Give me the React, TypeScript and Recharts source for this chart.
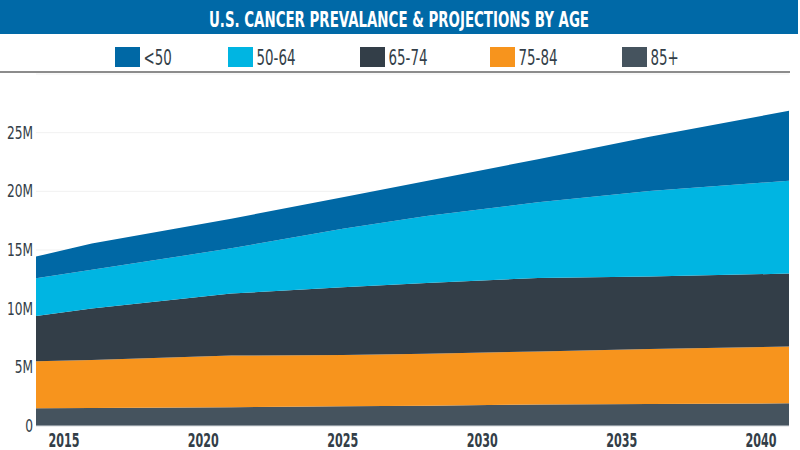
import React from 'react';
import { AreaChart, Area, XAxis, YAxis, CartesianGrid } from 'recharts';

const years = [2014, 2016, 2021, 2025, 2028, 2032, 2036, 2041];
const under50 = [1.85, 2.24, 2.53, 2.69, 2.99, 3.66, 4.62, 5.96];
const age50to64 = [3.22, 3.3, 3.85, 4.99, 5.71, 6.46, 7.29, 7.92];
const age65to74 = [3.85, 4.39, 5.29, 5.77, 6.04, 6.25, 6.18, 6.22];
const age75to84 = [4.0, 4.09, 4.41, 4.36, 4.42, 4.53, 4.69, 4.83];
const age85plus = [1.52, 1.53, 1.59, 1.69, 1.73, 1.83, 1.87, 1.94];

const xTicks = [2015, 2020, 2025, 2030, 2035, 2040];
const yTicks = [0, 5, 10, 15, 20, 25];

const seriesNames = ['<50', '50-64', '65-74', '75-84', '85+'];
const colors: Record<string, string> = {
  '<50': '#0068a5',
  '50-64': '#00b5e2',
  '65-74': '#333e48',
  '75-84': '#f7941d',
  '85+': '#45535e',
};

const data = years.map((y, i) => ({
  year: y,
  '<50': under50[i],
  '50-64': age50to64[i],
  '65-74': age65to74[i],
  '75-84': age75to84[i],
  '85+': age85plus[i],
}));

const FONT = '"DejaVu Sans Condensed", "DejaVu Sans", sans-serif';
const TEXT = '#333e48';

const XTick = (props: any) => {
  const { x, y, payload } = props;
  return (
    <g transform={`translate(${x},${y})`}>
      <text
        transform="scale(0.62,1)"
        textAnchor="middle"
        dy={12.5}
        fill={TEXT}
        fontFamily={FONT}
        fontWeight="bold"
        fontSize={20}
      >
        {payload.value}
      </text>
    </g>
  );
};

const YTick = (props: any) => {
  const { x, y, payload } = props;
  const label = payload.value === 0 ? '0' : `${payload.value}M`;
  return (
    <g transform={`translate(${x},${y})`}>
      <text
        transform="scale(0.8,1)"
        textAnchor="end"
        dy="0.36em"
        fill={TEXT}
        fontFamily={FONT}
        fontSize={17}
      >
        {label}
      </text>
    </g>
  );
};

const legendX = [115, 228, 360, 490, 622];

export default function App() {
  return (
    <div style={{ position: 'absolute', left: 0, top: 0, width: 800, height: 450, background: '#fff', overflow: 'hidden', fontFamily: FONT }}>
      <svg width={800} height={76} style={{ position: 'absolute', left: 0, top: 0 }}>
        <rect x={0} y={0} width={798} height={34} fill="#0069a7" />
        <text
          x={399}
          y={27}
          textAnchor="middle"
          fill="#ffffff"
          fontFamily={FONT}
          fontWeight="bold"
          fontSize={21}
          textLength={380}
          lengthAdjust="spacingAndGlyphs"
        >
          U.S. CANCER PREVALANCE &amp; PROJECTIONS BY AGE
        </text>
        {seriesNames.map((n, i) => (
          <g key={n} transform={`translate(${legendX[i]},47)`}>
            <rect x={0} y={0} width={25} height={20} fill={colors[n]} />
            <g transform="translate(28.5,18) scale(0.71,1)">
              <text x={0} y={0} fill={TEXT} fontFamily={FONT} fontSize={21}>
                {n}
              </text>
            </g>
          </g>
        ))}
        <line x1={0} y1={72} x2={790} y2={72} stroke="#8c8c8c" strokeWidth={2} />
      </svg>
      <div style={{ position: 'absolute', left: 0, top: 0 }}>
        <AreaChart width={800} height={450} data={data} margin={{ top: 74, right: 11, left: 0, bottom: 0 }}>
          <CartesianGrid vertical={false} stroke="#f1f1f1" />
          <XAxis
            dataKey="year"
            type="number"
            domain={[2014, 2041]}
            ticks={xTicks}
            height={24}
            tickLine={false}
            axisLine={{ stroke: '#d9dde0' }}
            tick={<XTick />}
          />
          <YAxis
            type="number"
            domain={[0, 30]}
            ticks={yTicks}
            width={36}
            tickLine={false}
            axisLine={false}
            tickSize={3}
            tickMargin={0}
            tick={<YTick />}
          />
          {['85+', '75-84', '65-74', '50-64', '<50'].map((n) => (
            <Area
              key={n}
              type="linear"
              dataKey={n}
              stackId="1"
              stroke="none"
              fill={colors[n]}
              fillOpacity={1}
              isAnimationActive={false}
            />
          ))}
        </AreaChart>
      </div>
    </div>
  );
}
